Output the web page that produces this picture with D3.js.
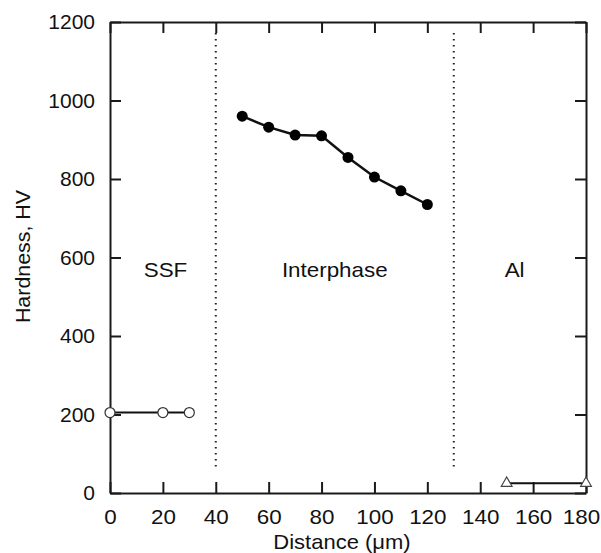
<!DOCTYPE html>
<html>
<head>
<meta charset="utf-8">
<script src="https://cdn.jsdelivr.net/npm/d3@7"></script>
<style>
  body { margin: 0; background: #fff; }
  svg { display: block; font-family: "Liberation Sans", Arial, sans-serif; }
</style>
</head>
<body>
<div id="chart"></div>
<script>
// chart data
const ssfX = [0, 20, 30];
const ssfHV = [205, 205, 205];
const interX = [50, 60, 70, 80, 90, 100, 110, 120];
const interHV = [960, 932, 912, 910, 855, 805, 770, 735];
const alX = [150, 180];
const alHV = [25, 25];
const boundaries = [40, 130];
const regionLabels = ["SSF", "Interphase", "Al"];
const regionLabelX = [21, 85, 153];
const xTicks = [0, 20, 40, 60, 80, 100, 120, 140, 160, 180];
const yTicks = [0, 200, 400, 600, 800, 1000, 1200];

const CHART_CONFIG = {
    width: 601,
    height: 553,
    left: 110, right: 586, top: 22, bottom: 493,
    tickLen: 11,
    fontSize: 20,
    stretch: 1.12, // the reference lettering is a bit wider than Liberation Sans
};

const svg = d3.select("#chart").append("svg")
    .attr("width", CHART_CONFIG.width)
    .attr("height", CHART_CONFIG.height);

svg.append("rect").attr("width", CHART_CONFIG.width).attr("height", CHART_CONFIG.height).attr("fill", "#fff");

const x = d3.scaleLinear().domain([0, 180]).range([CHART_CONFIG.left, CHART_CONFIG.right]);
const y = d3.scaleLinear().domain([0, 1200]).range([CHART_CONFIG.bottom, CHART_CONFIG.top]);

// axes on all four sides, ticks pointing inward
function styleAxis(sel) {
    sel.attr("font-size", CHART_CONFIG.fontSize).attr("font-family", "Liberation Sans, Arial, sans-serif");
    sel.select(".domain").attr("stroke", "#1a1a1a").attr("stroke-width", 2);
    sel.selectAll(".tick line").attr("stroke", "#1a1a1a").attr("stroke-width", 2);
    sel.selectAll("text").attr("fill", "#111");
}

const bottomAxis = svg.append("g")
    .attr("transform", `translate(0,${CHART_CONFIG.bottom})`)
    .call(d3.axisBottom(x).tickValues(xTicks).tickSizeInner(-CHART_CONFIG.tickLen).tickSizeOuter(0).tickPadding(17).tickFormat(d3.format("d")))
    .call(styleAxis);
bottomAxis.selectAll("text")
    .attr("transform", (d) => `translate(${d === 180 ? -5 : 0},0) scale(${CHART_CONFIG.stretch},1)`);

svg.append("g")
    .attr("transform", `translate(${CHART_CONFIG.left},0)`)
    .call(d3.axisLeft(y).tickValues(yTicks).tickSizeInner(-CHART_CONFIG.tickLen).tickSizeOuter(0).tickPadding(15).tickFormat(d3.format("d")))
    .call(styleAxis)
    .attr("font-size", 21);

svg.append("g")
    .attr("transform", `translate(0,${CHART_CONFIG.top})`)
    .call(d3.axisTop(x).tickValues(xTicks).tickSizeInner(-CHART_CONFIG.tickLen).tickSizeOuter(0).tickFormat(""))
    .call(styleAxis);

svg.append("g")
    .attr("transform", `translate(${CHART_CONFIG.right},0)`)
    .call(d3.axisRight(y).tickValues(yTicks).tickSizeInner(-CHART_CONFIG.tickLen).tickSizeOuter(0).tickFormat(""))
    .call(styleAxis);

// axis titles
svg.append("text")
    .attr("transform", `translate(342,549) scale(1.1,1)`)
    .attr("text-anchor", "middle")
    .attr("font-size", CHART_CONFIG.fontSize)
    .attr("fill", "#111")
    .text("Distance (\u03BCm)");

svg.append("text")
    .attr("transform", `translate(30,${(CHART_CONFIG.top + CHART_CONFIG.bottom) / 2 - 1}) rotate(-90) scale(1.07,1)`)
    .attr("text-anchor", "middle")
    .attr("font-size", CHART_CONFIG.fontSize)
    .attr("fill", "#111")
    .text("Hardness, HV");

// region boundaries
svg.selectAll(".boundary").data(boundaries).join("line")
    .attr("class", "boundary")
    .attr("x1", (d) => x(d)).attr("x2", (d) => x(d))
    .attr("y1", y(1172)).attr("y2", y(60))
    .attr("stroke", "#222")
    .attr("stroke-width", 2)
    .attr("stroke-dasharray", "1.6,4.4");

// region labels
svg.selectAll(".region").data(regionLabels).join("text")
    .attr("class", "region")
    .attr("transform", (d, i) => `translate(${x(regionLabelX[i])},277) scale(${CHART_CONFIG.stretch},1)`)
    .attr("text-anchor", "middle")
    .attr("font-size", CHART_CONFIG.fontSize)
    .attr("fill", "#111")
    .text((d) => d);

const line = d3.line().x((d) => x(d[0])).y((d) => y(d[1]));

// SSF: open circles
const ssf = ssfX.map((d, i) => [d, ssfHV[i]]);
svg.append("path").datum(ssf).attr("d", line).attr("fill", "none").attr("stroke", "#111").attr("stroke-width", 2);
svg.selectAll(".ssf").data(ssf).join("circle")
    .attr("class", "ssf")
    .attr("cx", (d) => x(d[0])).attr("cy", (d) => y(d[1]))
    .attr("r", 5).attr("fill", "#fff").attr("stroke", "#333").attr("stroke-width", 1.2);

// Interphase: filled circles
const inter = interX.map((d, i) => [d, interHV[i]]);
svg.append("path").datum(inter).attr("d", line).attr("fill", "none").attr("stroke", "#111").attr("stroke-width", 2.5);
svg.selectAll(".inter").data(inter).join("circle")
    .attr("class", "inter")
    .attr("cx", (d) => x(d[0])).attr("cy", (d) => y(d[1]))
    .attr("r", 5.5).attr("fill", "#000");

// Al: open triangles
const al = alX.map((d, i) => [d, alHV[i]]);
svg.append("path").datum(al).attr("d", line).attr("fill", "none").attr("stroke", "#111").attr("stroke-width", 2);
svg.selectAll(".al").data(al).join("path")
    .attr("class", "al")
    .attr("transform", (d) => `translate(${x(d[0])},${y(d[1])})`)
    .attr("d", d3.symbol().type(d3.symbolTriangle).size(50))
    .attr("fill", "#fff").attr("stroke", "#444").attr("stroke-width", 1.2);
</script>
</body>
</html>
